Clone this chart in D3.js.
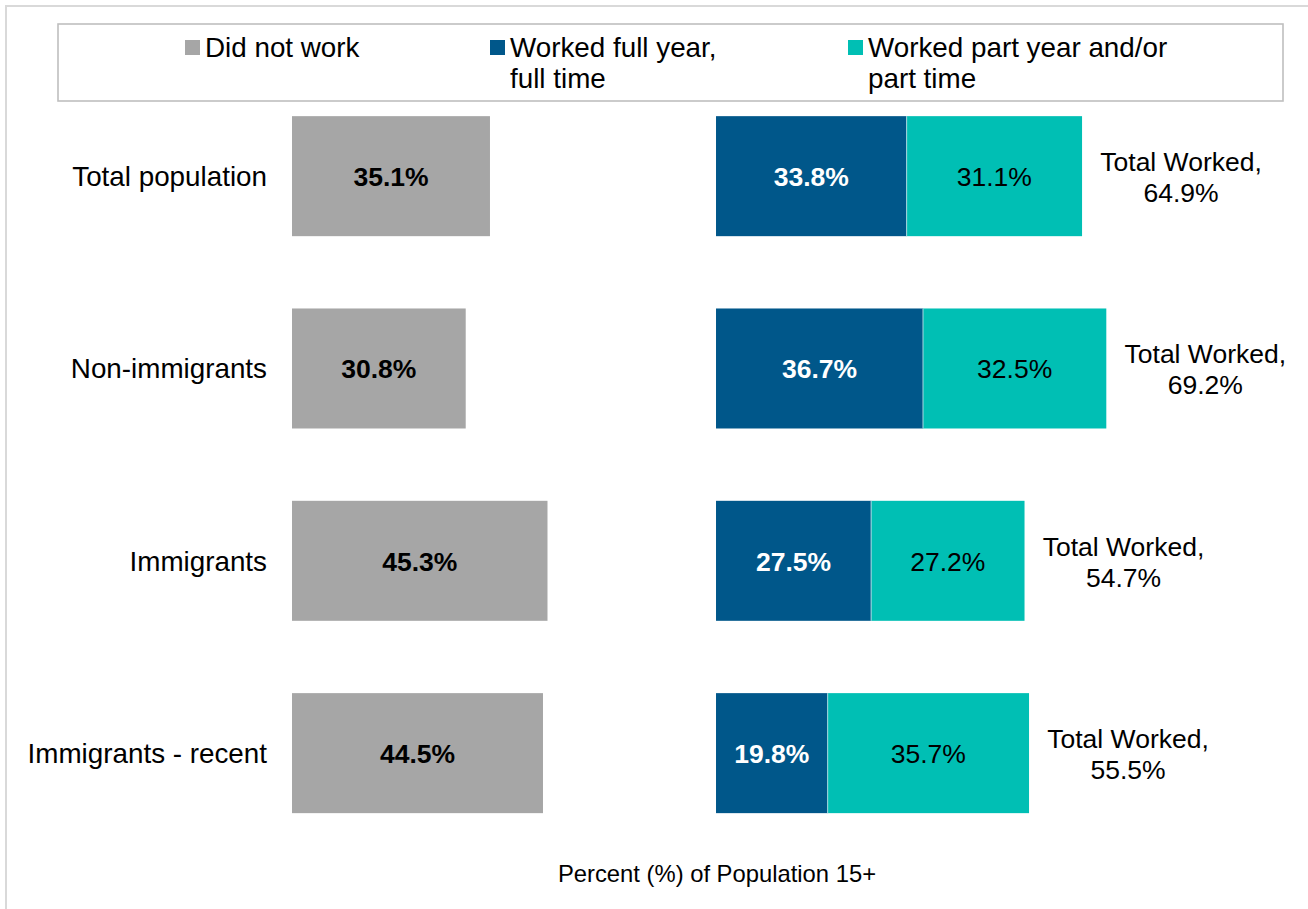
<!DOCTYPE html>
<html>
<head>
<meta charset="utf-8">
<script src="https://cdn.jsdelivr.net/npm/d3@7"></script>
<style>
  html, body { margin: 0; padding: 0; background: #fff; }
  svg { display: block; font-family: "Liberation Sans", Arial, sans-serif; }
</style>
</head>
<body>
<svg id="chart" width="1308" height="909"></svg>
<script>
// ---- data ----
const categories = ["Total population", "Non-immigrants", "Immigrants", "Immigrants - recent"];
const didNotWork = [35.1, 30.8, 45.3, 44.5];
const fullYearFullTime = [33.8, 36.7, 27.5, 19.8];
const partYearPartTime = [31.1, 32.5, 27.2, 35.7];
const totalWorked = [64.9, 69.2, 54.7, 55.5];
const seriesNames = ["Did not work", ["Worked full year,", "full time"], ["Worked part year and/or", "part time"]];
const axisTitle = "Percent (%) of Population 15+";

// ---- layout ----
const W = 1308, H = 909;
const colors = ["#a6a6a6", "#00578a", "#00bfb4"];
const svg = d3.select("#chart");

// outer frame (cut off at right and bottom)
svg.append("rect").attr("x", 6).attr("y", 6).attr("width", W + 20).attr("height", H + 20)
  .attr("fill", "none").attr("stroke", "#d9d9d9").attr("stroke-width", 2);

// legend box
svg.append("rect").attr("x", 58).attr("y", 24).attr("width", 1225).attr("height", 77)
  .attr("fill", "#fff").attr("stroke", "#bfbfbf").attr("stroke-width", 1.6);

const legendX = [185, 490, 848];
seriesNames.forEach((name, i) => {
  const g = svg.append("g");
  g.append("rect").attr("x", legendX[i]).attr("y", 40).attr("width", 15).attr("height", 15)
    .attr("fill", colors[i]);
  const lines = Array.isArray(name) ? name : [name];
  lines.forEach((ln, j) => {
    g.append("text").attr("x", legendX[i] + 20).attr("y", 57 + j * 31)
      .attr("font-size", 27.8).attr("fill", "#000").text(ln);
  });
});

// scales
const x = d3.scaleLinear().domain([0, 100]).range([292, 292 + 564]);
const rightOffset = 75.18; // % units between left axis origin and right stacked bars origin
const y = d3.scaleBand().domain(categories).range([80, 849.3]).paddingInner(0.376).paddingOuter(0.188);
const bw = y.bandwidth();

// category labels
svg.append("g").selectAll("text").data(categories).join("text")
  .attr("x", 267).attr("y", d => y(d) + bw / 2 + 10)
  .attr("text-anchor", "end").attr("font-size", 27.8).attr("fill", "#000").text(d => d);

// did not work bars
svg.append("g").selectAll("rect").data(didNotWork).join("rect")
  .attr("x", x(0)).attr("y", (d, i) => y(categories[i]))
  .attr("width", d => x(d) - x(0)).attr("height", bw)
  .attr("fill", colors[0]);
svg.append("g").selectAll("text").data(didNotWork).join("text")
  .attr("x", d => (x(0) + x(d)) / 2).attr("y", (d, i) => y(categories[i]) + bw / 2 + 10)
  .attr("text-anchor", "middle").attr("font-size", 26.5).attr("font-weight", "bold")
  .attr("fill", "#000").text(d => d.toFixed(1) + "%");

// stacked worked bars
const rows = categories.map((c, i) => ({ c, a: fullYearFullTime[i], b: partYearPartTime[i], t: totalWorked[i] }));
const gR = svg.append("g");
rows.forEach(r => {
  const y0 = y(r.c);
  const x0 = x(rightOffset), x1 = x(rightOffset + r.a), x2 = x(rightOffset + r.a + r.b);
  gR.append("rect").attr("x", x0).attr("y", y0).attr("width", x1 - x0).attr("height", bw).attr("fill", colors[1]);
  gR.append("rect").attr("x", x1).attr("y", y0).attr("width", x2 - x1).attr("height", bw).attr("fill", colors[2]);
  gR.append("line").attr("x1", x1).attr("x2", x1).attr("y1", y0).attr("y2", y0 + bw)
    .attr("stroke", "#a9d6e0").attr("stroke-width", 1);
  gR.append("text").attr("x", (x0 + x1) / 2).attr("y", y0 + bw / 2 + 10).attr("text-anchor", "middle")
    .attr("font-size", 26.5).attr("font-weight", "bold").attr("fill", "#fff").text(r.a.toFixed(1) + "%");
  gR.append("text").attr("x", (x1 + x2) / 2).attr("y", y0 + bw / 2 + 10).attr("text-anchor", "middle")
    .attr("font-size", 26.5).attr("fill", "#000").text(r.b.toFixed(1) + "%");
  const tx = x2 + 99;
  gR.append("text").attr("x", tx).attr("y", y0 + bw / 2 - 5).attr("text-anchor", "middle")
    .attr("font-size", 26.5).attr("fill", "#000").text("Total Worked,");
  gR.append("text").attr("x", tx).attr("y", y0 + bw / 2 + 26).attr("text-anchor", "middle")
    .attr("font-size", 26.5).attr("fill", "#000").text(r.t.toFixed(1) + "%");
});

// axis title
svg.append("text").attr("x", 717).attr("y", 882).attr("text-anchor", "middle")
  .attr("font-size", 23.8).attr("fill", "#000").text(axisTitle);
</script>
</body>
</html>
